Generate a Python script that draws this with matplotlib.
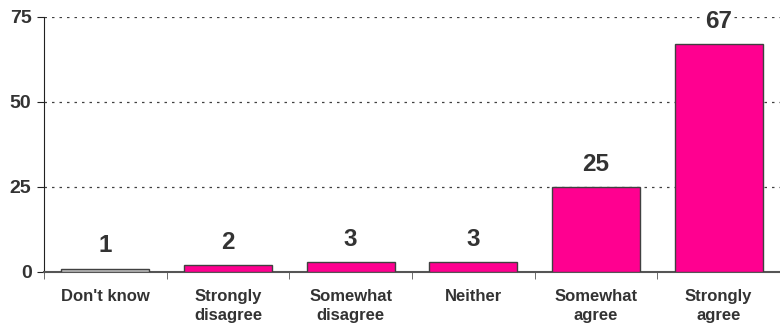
import matplotlib.pyplot as plt
import numpy as np

categories = ["Don't know", "Strongly\ndisagree", "Somewhat\ndisagree",
              "Neither", "Somewhat\nagree", "Strongly\nagree"]
values = [1, 2, 3, 3, 25, 67]
colors = ["#C0C0C0", "#FF0090", "#FF0090", "#FF0090", "#FF0090", "#FF0090"]
yticks = [0, 25, 50, 75]

plt.rcParams["font.family"] = ["Liberation Sans", "DejaVu Sans"]
plt.rcParams["font.weight"] = "bold"

fig = plt.figure(figsize=(7.8, 3.26), dpi=100)
ax = fig.add_axes([44 / 780, 1 - 272 / 326, 736 / 780, 255 / 326])

x = np.arange(len(categories))
ax.bar(x, values, width=0.72, color=colors, edgecolor="#404040", linewidth=1, zorder=3)

# value labels sit on a white box so the gridline stops around them
for xi, v in zip(x, values):
    ax.annotate(str(v), (xi, v), xytext=(0, 8), textcoords="offset points",
                ha="center", va="bottom", fontsize=17.5, fontweight="bold", color="#333333",
                bbox=dict(facecolor="white", edgecolor="none", pad=1), zorder=4)

ax.set_xlim(-0.5, len(categories) - 0.5)
ax.set_ylim(0, 75)
ax.set_yticks(yticks)
ax.set_yticklabels([str(t) for t in yticks], fontsize=14, fontweight="bold", color="#333333")
ax.yaxis.grid(True, linestyle=(0, (2, 4)), color="#404040", linewidth=0.9, zorder=0)

ax.set_xticks(x)
ax.set_xticklabels(categories, fontsize=12, fontweight="bold", color="#333333", linespacing=1.4)
ax.tick_params(axis="x", length=0, pad=12)
ax.set_xticks(np.arange(len(categories) + 1) - 0.5, minor=True)
ax.tick_params(axis="x", which="minor", length=5, direction="out", color="#555555")
ax.tick_params(axis="y", length=5, direction="out", color="#222222", pad=4)

for side in ["top", "right"]:
    ax.spines[side].set_visible(False)
ax.spines["left"].set_color("#222222")
ax.spines["bottom"].set_color("#555555")
ax.spines["bottom"].set_linewidth(1.5)
ax.set_axisbelow(True)

fig.savefig("out.png", dpi=100)
